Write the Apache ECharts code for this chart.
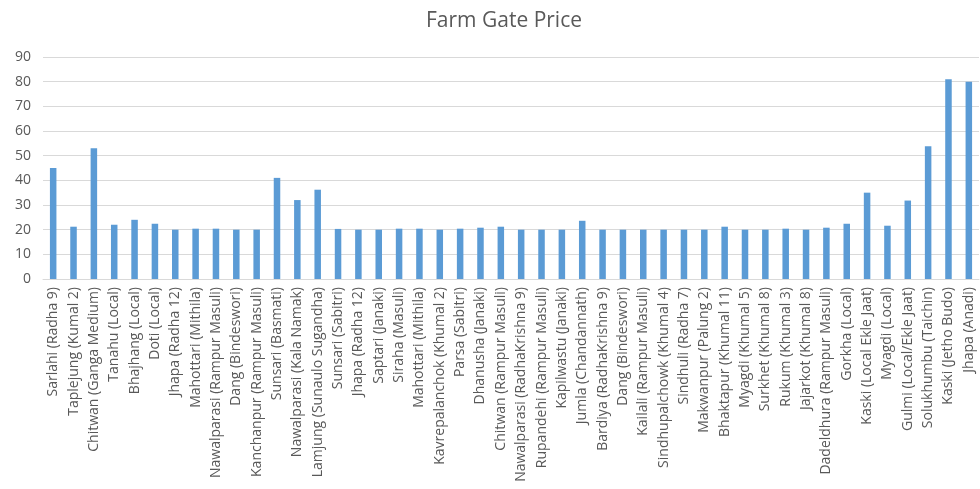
<!DOCTYPE html>
<html>
<head>
<meta charset="utf-8">
<script src="https://cdn.jsdelivr.net/npm/echarts@6/dist/echarts.min.js"></script>
<style>html,body{margin:0;padding:0;background:#fff}#c{width:980px;height:489px}</style>
</head>
<body>
<div id="c"></div>
<script>
var categories = [
  "Sarlahi (Radha 9)", "Taplejung (Kumal 2)", "Chitwan (Ganga Medium)", "Tanahu (Local)",
  "Bhajhang (Local)", "Doti (Local)", "Jhapa (Radha 12)", "Mahottari (Mithila)",
  "Nawalparasi (Rampur Masuli)", "Dang (Bindeswori)", "Kanchanpur (Rampur Masuli)", "Sunsari (Basmati)",
  "Nawalparasi (Kala Namak)", "Lamjung (Sunaulo Sugandha)", "Sunsari (Sabitri)", "Jhapa (Radha 12)",
  "Saptari (Janaki)", "Siraha (Masuli)", "Mahottari (Mithila)", "Kavrepalanchok (Khumal 2)",
  "Parsa (Sabitri)", "Dhanusha (Janaki)", "Chitwan (Rampur Masuli)", "Nawalparasi (RadhaKrishna 9)",
  "Rupandehi (Rampur Masuli)", "Kapilwastu (Janaki)", "Jumla (Chandannath)", "Bardiya (RadhaKrishna 9)",
  "Dang (Bindeswori)", "Kailali (Rampur Masuli)", "Sindhupalchowk (Khumal 4)", "Sindhuli (Radha 7)",
  "Makwanpur (Palung 2)", "Bhaktapur (Khumal 11)", "Myagdi (Khumal 5)", "Surkhet (Khumal 8)",
  "Rukum (Khumal 3)", "Jajarkot (Khumal 8)", "Dadeldhura (Rampur Masuli)", "Gorkha (Local)",
  "Kaski (Local Ekle Jaat)", "Myagdi (Local)", "Gulmi (Local/Ekle Jaat)", "Solukhumbu (Taichin)",
  "Kaski (Jetho Budo)", "Jhapa (Anadi)"
];
var prices = [
  45, 21.2, 53, 22, 24, 22.4, 20, 20.4, 20.4, 20, 20, 41,
  32, 36.2, 20.3, 20, 20, 20.4, 20.4, 20, 20.4, 20.8, 21.2, 20,
  20, 20, 23.6, 20, 20, 20, 20, 20, 20, 21.2, 20, 20,
  20.4, 20, 20.8, 22.4, 35, 21.6, 31.8, 53.8, 81, 80
];
var yTicks = [0, 10, 20, 30, 40, 50, 60, 70, 80, 90];

var chart = echarts.init(document.getElementById('c'));
chart.setOption({
  animation: false,
  title: {
    text: 'Farm Gate Price', left: 421, top: 6,
    textStyle: { fontFamily: 'Open Sans', fontSize: 21, fontWeight: 'normal', color: '#595959' }
  },
  grid: { left: 43, right: 1, top: 57, bottom: 210, containLabel: false },
  xAxis: {
    type: 'category', data: categories,
    axisLine: { lineStyle: { color: '#d9d9d9' } },
    axisTick: { show: false },
    axisLabel: { rotate: 90, interval: 0, margin: 8, fontFamily: 'Open Sans', fontSize: 14, color: '#595959' }
  },
  yAxis: {
    type: 'value', min: yTicks[0], max: yTicks[yTicks.length - 1], interval: 10,
    axisLine: { show: false }, axisTick: { show: false },
    splitLine: { lineStyle: { color: '#d9d9d9' } },
    axisLabel: { margin: 12, fontFamily: 'Open Sans', fontSize: 14, color: '#595959' }
  },
  series: [{
    type: 'bar', data: prices, barWidth: '32%',
    itemStyle: { color: '#5B9BD5' }
  }]
});
</script>
</body>
</html>
